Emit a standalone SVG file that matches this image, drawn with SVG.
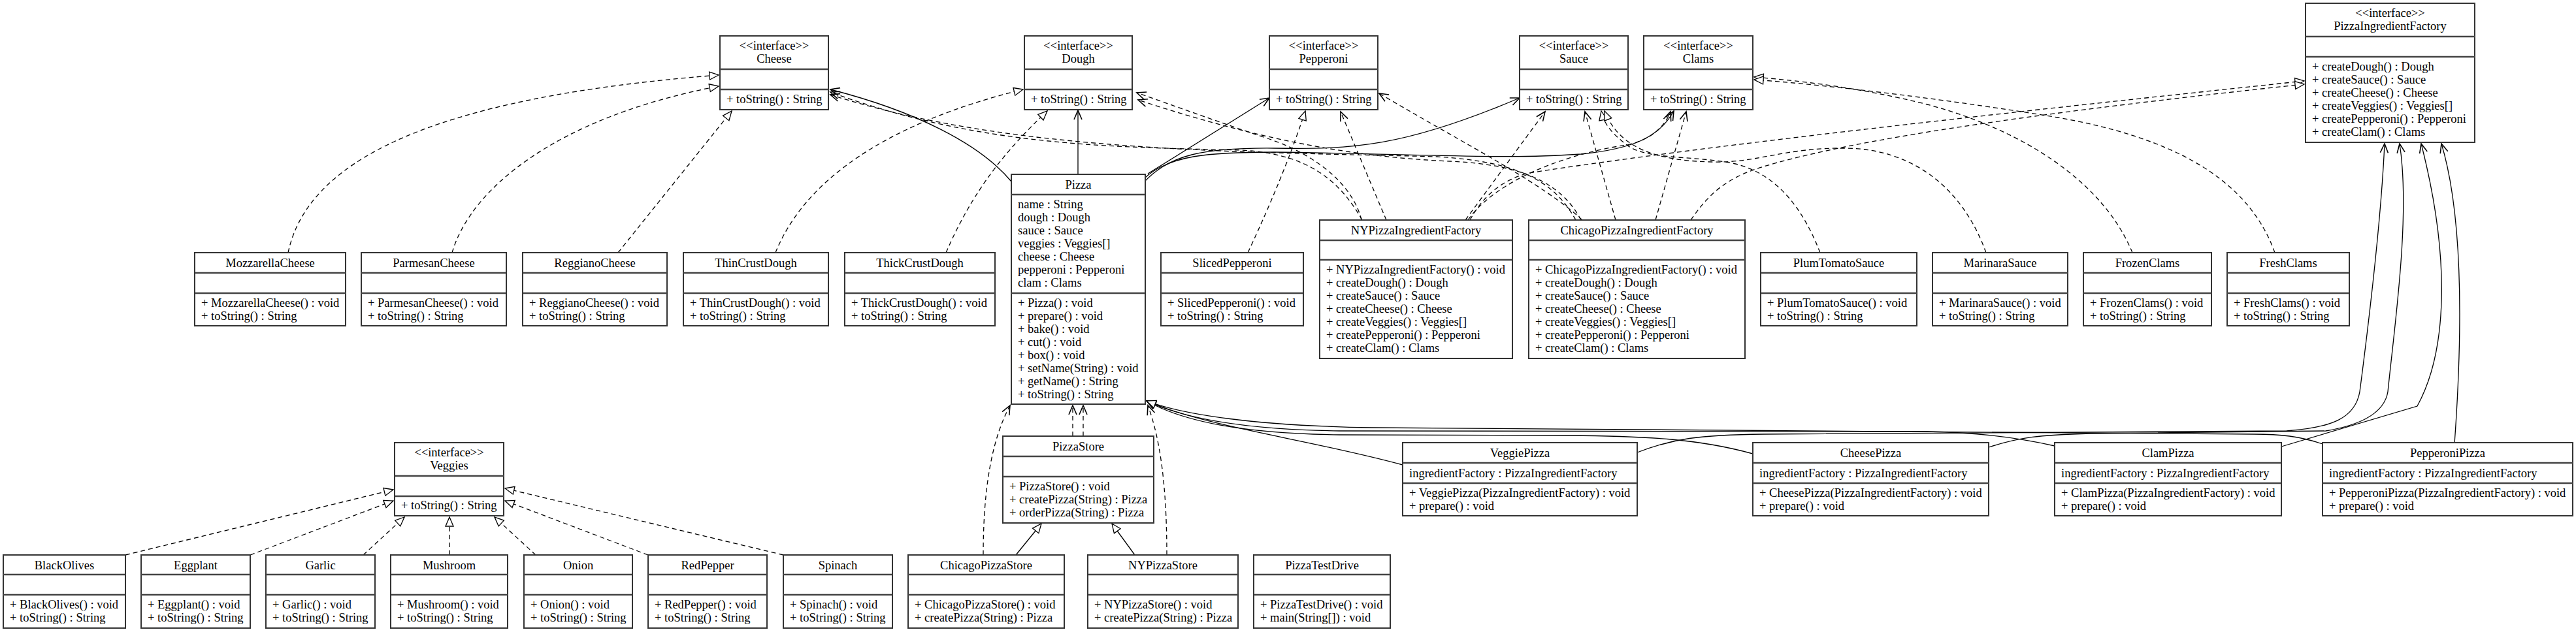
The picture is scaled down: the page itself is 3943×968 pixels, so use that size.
<svg xmlns="http://www.w3.org/2000/svg" width="3943" height="968" viewBox="0 0 3943 968">
<style>
.b{fill:#fff;stroke:#333;stroke-width:2}
.d{stroke:#444;stroke-width:2.5}
text{font-family:"Liberation Serif","Times New Roman",serif;font-size:18.5px;fill:#000}
.c{text-anchor:middle}
.e{fill:none;stroke:#000;stroke-width:1.3}
.ds{stroke-dasharray:7 5}
.rz{marker-end:url(#tri)}
.ar{marker-end:url(#arr)}
</style>
<defs>
<marker id="tri" markerWidth="18" markerHeight="16" refX="16" refY="8" orient="auto" markerUnits="userSpaceOnUse"><path d="M2,2 L16,8 L2,14 Z" fill="#fff" stroke="#000" stroke-width="1.3"/></marker>
<marker id="arr" markerWidth="18" markerHeight="16" refX="16" refY="8" orient="auto" markerUnits="userSpaceOnUse"><path d="M2,2 L16,8 L2,14" fill="none" stroke="#000" stroke-width="1.6"/></marker>
</defs>
<rect width="3943" height="968" fill="#fff"/>
<g id="connectors">
<!-- realizations -->
<path class="e ds rz" d="M441,387 C470,250 650,150 1100,115"/>
<path class="e ds rz" d="M692,387 C720,290 850,180 1100,132"/>
<path class="e ds rz" d="M946,387 L1120,170"/>
<path class="e ds rz" d="M1187,387 C1230,280 1350,190 1566,137"/>
<path class="e ds rz" d="M1448,387 C1490,290 1540,230 1603,170"/>
<path class="e ds rz" d="M1910,387 Q1965,270 1998,170"/>
<path class="e ds rz" d="M2786,387 C2760,320 2720,265 2652,250 C2590,238 2520,245 2490,222 C2468,205 2455,190 2451,170"/>
<path class="e ds rz" d="M3040,387 C3005,290 2930,228 2825,227 C2730,226 2690,250 2620,248 C2540,246 2480,230 2456,170"/>
<path class="e ds rz" d="M3264,387 C3220,280 3100,200 2950,160 C2850,135 2760,124 2685,118"/>
<path class="e ds rz" d="M3482,387 C3440,270 3320,210 3150,180 C3000,155 2800,130 2685,122"/>
<path class="e ds rz" d="M2250,337 C2270,300 2300,275 2340,265 C2600,225 3000,180 3527,124"/>
<path class="e ds rz" d="M2588,337 C2620,290 2650,270 2700,255 C2800,225 3000,185 3527,129"/>
<path class="e ds rz" d="M192,850 L602,750"/>
<path class="e ds rz" d="M383,850 L602,767"/>
<path class="e ds rz" d="M556,850 L619,792"/>
<path class="e ds rz" d="M688,850 L688,792"/>
<path class="e ds rz" d="M820,850 L757,792"/>
<path class="e ds rz" d="M992,850 L773,767"/>
<path class="e ds rz" d="M1199,850 L773,748"/>
<!-- generalizations -->
<path class="e rz" d="M1555,850 L1594,802"/>
<path class="e rz" d="M1737,850 L1702,802"/>
<path class="e rz" d="M2147,712 C2000,672 1850,655 1755,614"/>
<path class="e rz" d="M2683,695 C2600,672 2520,668 2400,667 L2050,666 C1900,664 1810,645 1755,614"/>
<path class="e rz" d="M3145,683 C3080,668 3020,662 2950,661 L2050,660 C1900,658 1810,640 1755,614"/>
<path class="e rz" d="M3555,680 C3520,668 3490,665 3450,665 L2100,655 C1920,652 1810,635 1755,614"/>
<!-- associations -->
<path class="e ar" d="M1548,278 C1500,220 1400,170 1271,137"/>
<path class="e ar" d="M1650,267 L1650,169"/>
<path class="e ar" d="M1757,266 L1943,150"/>
<path class="e ar" d="M1753,277 C1790,238 1840,226 1950,227 C2070,229 2150,225 2326,150"/>
<path class="e ar" d="M1753,272 C1790,238 1850,233 1950,233 C2150,235 2300,245 2420,236 C2500,228 2540,210 2562,170"/>
<path class="e ar" d="M2506,693 C2560,672 2600,666 2700,665 L3500,660 C3570,655 3605,640 3612,600 C3625,500 3645,330 3650,220"/>
<path class="e ar" d="M3044,685 C3090,670 3120,666 3200,664 L3560,660 C3620,650 3650,630 3655,600 C3665,500 3690,330 3673,220"/>
<path class="e ar" d="M3492,684 L3700,622 C3745,540 3752,400 3706,220"/>
<path class="e ar" d="M3757,680 C3770,500 3770,330 3737,220"/>
<!-- dependencies -->
<path class="e ds ar" d="M2085,337 C2050,275 2000,235 1900,230 C1700,225 1500,225 1271,141"/>
<path class="e ds ar" d="M2412,337 C2380,280 2330,248 2200,240 C1900,232 1550,235 1271,145"/>
<path class="e ds ar" d="M2084,337 C2070,280 2010,235 1940,212 C1860,185 1800,163 1740,142"/>
<path class="e ds ar" d="M2420,337 C2390,280 2330,252 2220,247 C2050,240 1900,205 1742,153"/>
<path class="e ds ar" d="M2122,337 L2052,171"/>
<path class="e ds ar" d="M2422,337 C2360,280 2250,225 2111,143"/>
<path class="e ds ar" d="M2243,337 L2365,171"/>
<path class="e ds ar" d="M2247,337 C2290,275 2400,235 2490,222 C2525,215 2548,195 2557,171"/>
<path class="e ds ar" d="M2473,337 L2426,171"/>
<path class="e ds ar" d="M2534,337 L2581,171"/>
<path class="e ds ar" d="M1642,668 L1642,621"/>
<path class="e ds ar" d="M1658,668 L1658,621"/>
<path class="e ds ar" d="M1505,850 C1505,740 1520,670 1546,621"/>
<path class="e ds ar" d="M1786,850 C1786,740 1775,670 1757,621"/>
</g>
<g id="Cheese"><rect class="b" x="1102" y="55" width="166" height="113"/><line class="d" x1="1102" y1="106" x2="1268" y2="106"/><line class="d" x1="1102" y1="137" x2="1268" y2="137"/><text class="c" x="1185" y="76">&lt;&lt;interface&gt;&gt;</text><text class="c" x="1185" y="96">Cheese</text><text x="1112" y="157.5">+ toString() : String</text></g>
<g id="Dough"><rect class="b" x="1568" y="55" width="165" height="113"/><line class="d" x1="1568" y1="106" x2="1733" y2="106"/><line class="d" x1="1568" y1="137" x2="1733" y2="137"/><text class="c" x="1650.5" y="76">&lt;&lt;interface&gt;&gt;</text><text class="c" x="1650.5" y="96">Dough</text><text x="1578" y="157.5">+ toString() : String</text></g>
<g id="Pepperoni"><rect class="b" x="1943" y="55" width="166" height="113"/><line class="d" x1="1943" y1="106" x2="2109" y2="106"/><line class="d" x1="1943" y1="137" x2="2109" y2="137"/><text class="c" x="2026" y="76">&lt;&lt;interface&gt;&gt;</text><text class="c" x="2026" y="96">Pepperoni</text><text x="1953" y="157.5">+ toString() : String</text></g>
<g id="Sauce"><rect class="b" x="2326" y="55" width="166" height="113"/><line class="d" x1="2326" y1="106" x2="2492" y2="106"/><line class="d" x1="2326" y1="137" x2="2492" y2="137"/><text class="c" x="2409" y="76">&lt;&lt;interface&gt;&gt;</text><text class="c" x="2409" y="96">Sauce</text><text x="2336" y="157.5">+ toString() : String</text></g>
<g id="Clams"><rect class="b" x="2516" y="55" width="167" height="113"/><line class="d" x1="2516" y1="106" x2="2683" y2="106"/><line class="d" x1="2516" y1="137" x2="2683" y2="137"/><text class="c" x="2599.5" y="76">&lt;&lt;interface&gt;&gt;</text><text class="c" x="2599.5" y="96">Clams</text><text x="2526" y="157.5">+ toString() : String</text></g>
<g id="PizzaIngredientFactory"><rect class="b" x="3529" y="5" width="259" height="213"/><line class="d" x1="3529" y1="56" x2="3788" y2="56"/><line class="d" x1="3529" y1="87" x2="3788" y2="87"/><text class="c" x="3658.5" y="26">&lt;&lt;interface&gt;&gt;</text><text class="c" x="3658.5" y="46">PizzaIngredientFactory</text><text x="3539" y="107.5">+ createDough() : Dough</text><text x="3539" y="127.5">+ createSauce() : Sauce</text><text x="3539" y="147.5">+ createCheese() : Cheese</text><text x="3539" y="167.5">+ createVeggies() : Veggies[]</text><text x="3539" y="187.5">+ createPepperoni() : Pepperoni</text><text x="3539" y="207.5">+ createClam() : Clams</text></g>
<g id="Veggies"><rect class="b" x="604" y="678" width="167" height="112"/><line class="d" x1="604" y1="729" x2="771" y2="729"/><line class="d" x1="604" y1="760" x2="771" y2="760"/><text class="c" x="687.5" y="699">&lt;&lt;interface&gt;&gt;</text><text class="c" x="687.5" y="719">Veggies</text><text x="614" y="780">+ toString() : String</text></g>
<g id="MozzarellaCheese"><rect class="b" x="298" y="387" width="231" height="112"/><line class="d" x1="298" y1="418" x2="529" y2="418"/><line class="d" x1="298" y1="449" x2="529" y2="449"/><text class="c" x="413.5" y="408.5">MozzarellaCheese</text><text x="308" y="469.5">+ MozzarellaCheese() : void</text><text x="308" y="489.5">+ toString() : String</text></g>
<g id="ParmesanCheese"><rect class="b" x="553" y="387" width="222" height="112"/><line class="d" x1="553" y1="418" x2="775" y2="418"/><line class="d" x1="553" y1="449" x2="775" y2="449"/><text class="c" x="664" y="408.5">ParmesanCheese</text><text x="563" y="469.5">+ ParmesanCheese() : void</text><text x="563" y="489.5">+ toString() : String</text></g>
<g id="ReggianoCheese"><rect class="b" x="800" y="387" width="221" height="112"/><line class="d" x1="800" y1="418" x2="1021" y2="418"/><line class="d" x1="800" y1="449" x2="1021" y2="449"/><text class="c" x="910.5" y="408.5">ReggianoCheese</text><text x="810" y="469.5">+ ReggianoCheese() : void</text><text x="810" y="489.5">+ toString() : String</text></g>
<g id="ThinCrustDough"><rect class="b" x="1046" y="387" width="222" height="112"/><line class="d" x1="1046" y1="418" x2="1268" y2="418"/><line class="d" x1="1046" y1="449" x2="1268" y2="449"/><text class="c" x="1157" y="408.5">ThinCrustDough</text><text x="1056" y="469.5">+ ThinCrustDough() : void</text><text x="1056" y="489.5">+ toString() : String</text></g>
<g id="ThickCrustDough"><rect class="b" x="1293" y="387" width="230" height="112"/><line class="d" x1="1293" y1="418" x2="1523" y2="418"/><line class="d" x1="1293" y1="449" x2="1523" y2="449"/><text class="c" x="1408" y="408.5">ThickCrustDough</text><text x="1303" y="469.5">+ ThickCrustDough() : void</text><text x="1303" y="489.5">+ toString() : String</text></g>
<g id="SlicedPepperoni"><rect class="b" x="1777" y="387" width="218" height="112"/><line class="d" x1="1777" y1="418" x2="1995" y2="418"/><line class="d" x1="1777" y1="449" x2="1995" y2="449"/><text class="c" x="1886" y="408.5">SlicedPepperoni</text><text x="1787" y="469.5">+ SlicedPepperoni() : void</text><text x="1787" y="489.5">+ toString() : String</text></g>
<g id="PlumTomatoSauce"><rect class="b" x="2695" y="387" width="239" height="112"/><line class="d" x1="2695" y1="418" x2="2934" y2="418"/><line class="d" x1="2695" y1="449" x2="2934" y2="449"/><text class="c" x="2814.5" y="408.5">PlumTomatoSauce</text><text x="2705" y="469.5">+ PlumTomatoSauce() : void</text><text x="2705" y="489.5">+ toString() : String</text></g>
<g id="MarinaraSauce"><rect class="b" x="2958" y="387" width="207" height="112"/><line class="d" x1="2958" y1="418" x2="3165" y2="418"/><line class="d" x1="2958" y1="449" x2="3165" y2="449"/><text class="c" x="3061.5" y="408.5">MarinaraSauce</text><text x="2968" y="469.5">+ MarinaraSauce() : void</text><text x="2968" y="489.5">+ toString() : String</text></g>
<g id="FrozenClams"><rect class="b" x="3189" y="387" width="196" height="112"/><line class="d" x1="3189" y1="418" x2="3385" y2="418"/><line class="d" x1="3189" y1="449" x2="3385" y2="449"/><text class="c" x="3287" y="408.5">FrozenClams</text><text x="3199" y="469.5">+ FrozenClams() : void</text><text x="3199" y="489.5">+ toString() : String</text></g>
<g id="FreshClams"><rect class="b" x="3409" y="387" width="187" height="112"/><line class="d" x1="3409" y1="418" x2="3596" y2="418"/><line class="d" x1="3409" y1="449" x2="3596" y2="449"/><text class="c" x="3502.5" y="408.5">FreshClams</text><text x="3419" y="469.5">+ FreshClams() : void</text><text x="3419" y="489.5">+ toString() : String</text></g>
<g id="Pizza"><rect class="b" x="1548" y="267" width="205" height="352"/><line class="d" x1="1548" y1="298" x2="1753" y2="298"/><line class="d" x1="1548" y1="449" x2="1753" y2="449"/><text class="c" x="1650.5" y="288.5">Pizza</text><text x="1558" y="318.5">name : String</text><text x="1558" y="338.5">dough : Dough</text><text x="1558" y="358.5">sauce : Sauce</text><text x="1558" y="378.5">veggies : Veggies[]</text><text x="1558" y="398.5">cheese : Cheese</text><text x="1558" y="418.5">pepperoni : Pepperoni</text><text x="1558" y="438.5">clam : Clams</text><text x="1558" y="469.5">+ Pizza() : void</text><text x="1558" y="489.5">+ prepare() : void</text><text x="1558" y="509.5">+ bake() : void</text><text x="1558" y="529.5">+ cut() : void</text><text x="1558" y="549.5">+ box() : void</text><text x="1558" y="569.5">+ setName(String) : void</text><text x="1558" y="589.5">+ getName() : String</text><text x="1558" y="609.5">+ toString() : String</text></g>
<g id="NYPizzaIngredientFactory"><rect class="b" x="2020" y="337" width="295" height="212"/><line class="d" x1="2020" y1="368" x2="2315" y2="368"/><line class="d" x1="2020" y1="398" x2="2315" y2="398"/><text class="c" x="2167.5" y="358.5">NYPizzaIngredientFactory</text><text x="2030" y="418.5">+ NYPizzaIngredientFactory() : void</text><text x="2030" y="438.5">+ createDough() : Dough</text><text x="2030" y="458.5">+ createSauce() : Sauce</text><text x="2030" y="478.5">+ createCheese() : Cheese</text><text x="2030" y="498.5">+ createVeggies() : Veggies[]</text><text x="2030" y="518.5">+ createPepperoni() : Pepperoni</text><text x="2030" y="538.5">+ createClam() : Clams</text></g>
<g id="ChicagoPizzaIngredientFactory"><rect class="b" x="2340" y="337" width="331" height="212"/><line class="d" x1="2340" y1="368" x2="2671" y2="368"/><line class="d" x1="2340" y1="398" x2="2671" y2="398"/><text class="c" x="2505.5" y="358.5">ChicagoPizzaIngredientFactory</text><text x="2350" y="418.5">+ ChicagoPizzaIngredientFactory() : void</text><text x="2350" y="438.5">+ createDough() : Dough</text><text x="2350" y="458.5">+ createSauce() : Sauce</text><text x="2350" y="478.5">+ createCheese() : Cheese</text><text x="2350" y="498.5">+ createVeggies() : Veggies[]</text><text x="2350" y="518.5">+ createPepperoni() : Pepperoni</text><text x="2350" y="538.5">+ createClam() : Clams</text></g>
<g id="PizzaStore"><rect class="b" x="1535" y="668" width="231" height="133"/><line class="d" x1="1535" y1="699" x2="1766" y2="699"/><line class="d" x1="1535" y1="730" x2="1766" y2="730"/><text class="c" x="1650.5" y="689.5">PizzaStore</text><text x="1545" y="750.5">+ PizzaStore() : void</text><text x="1545" y="770.5">+ createPizza(String) : Pizza</text><text x="1545" y="790.5">+ orderPizza(String) : Pizza</text></g>
<g id="VeggiePizza"><rect class="b" x="2147" y="678" width="359" height="112"/><line class="d" x1="2147" y1="709" x2="2506" y2="709"/><line class="d" x1="2147" y1="740" x2="2506" y2="740"/><text class="c" x="2326.5" y="699.5">VeggiePizza</text><text x="2157" y="730.5">ingredientFactory : PizzaIngredientFactory</text><text x="2157" y="760.5">+ VeggiePizza(PizzaIngredientFactory) : void</text><text x="2157" y="780.5">+ prepare() : void</text></g>
<g id="CheesePizza"><rect class="b" x="2683" y="678" width="361" height="112"/><line class="d" x1="2683" y1="709" x2="3044" y2="709"/><line class="d" x1="2683" y1="740" x2="3044" y2="740"/><text class="c" x="2863.5" y="699.5">CheesePizza</text><text x="2693" y="730.5">ingredientFactory : PizzaIngredientFactory</text><text x="2693" y="760.5">+ CheesePizza(PizzaIngredientFactory) : void</text><text x="2693" y="780.5">+ prepare() : void</text></g>
<g id="ClamPizza"><rect class="b" x="3145" y="678" width="347" height="112"/><line class="d" x1="3145" y1="709" x2="3492" y2="709"/><line class="d" x1="3145" y1="740" x2="3492" y2="740"/><text class="c" x="3318.5" y="699.5">ClamPizza</text><text x="3155" y="730.5">ingredientFactory : PizzaIngredientFactory</text><text x="3155" y="760.5">+ ClamPizza(PizzaIngredientFactory) : void</text><text x="3155" y="780.5">+ prepare() : void</text></g>
<g id="PepperoniPizza"><rect class="b" x="3555" y="678" width="383" height="112"/><line class="d" x1="3555" y1="709" x2="3938" y2="709"/><line class="d" x1="3555" y1="740" x2="3938" y2="740"/><text class="c" x="3746.5" y="699.5">PepperoniPizza</text><text x="3565" y="730.5">ingredientFactory : PizzaIngredientFactory</text><text x="3565" y="760.5">+ PepperoniPizza(PizzaIngredientFactory) : void</text><text x="3565" y="780.5">+ prepare() : void</text></g>
<g id="BlackOlives"><rect class="b" x="5" y="850" width="187" height="112"/><line class="d" x1="5" y1="880" x2="192" y2="880"/><line class="d" x1="5" y1="911" x2="192" y2="911"/><text class="c" x="98.5" y="871.5">BlackOlives</text><text x="15" y="931.5">+ BlackOlives() : void</text><text x="15" y="951.5">+ toString() : String</text></g>
<g id="Eggplant"><rect class="b" x="216" y="850" width="167" height="112"/><line class="d" x1="216" y1="880" x2="383" y2="880"/><line class="d" x1="216" y1="911" x2="383" y2="911"/><text class="c" x="299.5" y="871.5">Eggplant</text><text x="226" y="931.5">+ Eggplant() : void</text><text x="226" y="951.5">+ toString() : String</text></g>
<g id="Garlic"><rect class="b" x="407" y="850" width="167" height="112"/><line class="d" x1="407" y1="880" x2="574" y2="880"/><line class="d" x1="407" y1="911" x2="574" y2="911"/><text class="c" x="490.5" y="871.5">Garlic</text><text x="417" y="931.5">+ Garlic() : void</text><text x="417" y="951.5">+ toString() : String</text></g>
<g id="Mushroom"><rect class="b" x="598" y="850" width="179" height="112"/><line class="d" x1="598" y1="880" x2="777" y2="880"/><line class="d" x1="598" y1="911" x2="777" y2="911"/><text class="c" x="687.5" y="871.5">Mushroom</text><text x="608" y="931.5">+ Mushroom() : void</text><text x="608" y="951.5">+ toString() : String</text></g>
<g id="Onion"><rect class="b" x="802" y="850" width="166" height="112"/><line class="d" x1="802" y1="880" x2="968" y2="880"/><line class="d" x1="802" y1="911" x2="968" y2="911"/><text class="c" x="885" y="871.5">Onion</text><text x="812" y="931.5">+ Onion() : void</text><text x="812" y="951.5">+ toString() : String</text></g>
<g id="RedPepper"><rect class="b" x="992" y="850" width="182" height="112"/><line class="d" x1="992" y1="880" x2="1174" y2="880"/><line class="d" x1="992" y1="911" x2="1174" y2="911"/><text class="c" x="1083" y="871.5">RedPepper</text><text x="1002" y="931.5">+ RedPepper() : void</text><text x="1002" y="951.5">+ toString() : String</text></g>
<g id="Spinach"><rect class="b" x="1199" y="850" width="167" height="112"/><line class="d" x1="1199" y1="880" x2="1366" y2="880"/><line class="d" x1="1199" y1="911" x2="1366" y2="911"/><text class="c" x="1282.5" y="871.5">Spinach</text><text x="1209" y="931.5">+ Spinach() : void</text><text x="1209" y="951.5">+ toString() : String</text></g>
<g id="ChicagoPizzaStore"><rect class="b" x="1390" y="850" width="239" height="112"/><line class="d" x1="1390" y1="880" x2="1629" y2="880"/><line class="d" x1="1390" y1="911" x2="1629" y2="911"/><text class="c" x="1509.5" y="871.5">ChicagoPizzaStore</text><text x="1400" y="931.5">+ ChicagoPizzaStore() : void</text><text x="1400" y="951.5">+ createPizza(String) : Pizza</text></g>
<g id="NYPizzaStore"><rect class="b" x="1665" y="850" width="230" height="112"/><line class="d" x1="1665" y1="880" x2="1895" y2="880"/><line class="d" x1="1665" y1="911" x2="1895" y2="911"/><text class="c" x="1780" y="871.5">NYPizzaStore</text><text x="1675" y="931.5">+ NYPizzaStore() : void</text><text x="1675" y="951.5">+ createPizza(String) : Pizza</text></g>
<g id="PizzaTestDrive"><rect class="b" x="1919" y="850" width="209" height="112"/><line class="d" x1="1919" y1="880" x2="2128" y2="880"/><line class="d" x1="1919" y1="911" x2="2128" y2="911"/><text class="c" x="2023.5" y="871.5">PizzaTestDrive</text><text x="1929" y="931.5">+ PizzaTestDrive() : void</text><text x="1929" y="951.5">+ main(String[]) : void</text></g>
</svg>
